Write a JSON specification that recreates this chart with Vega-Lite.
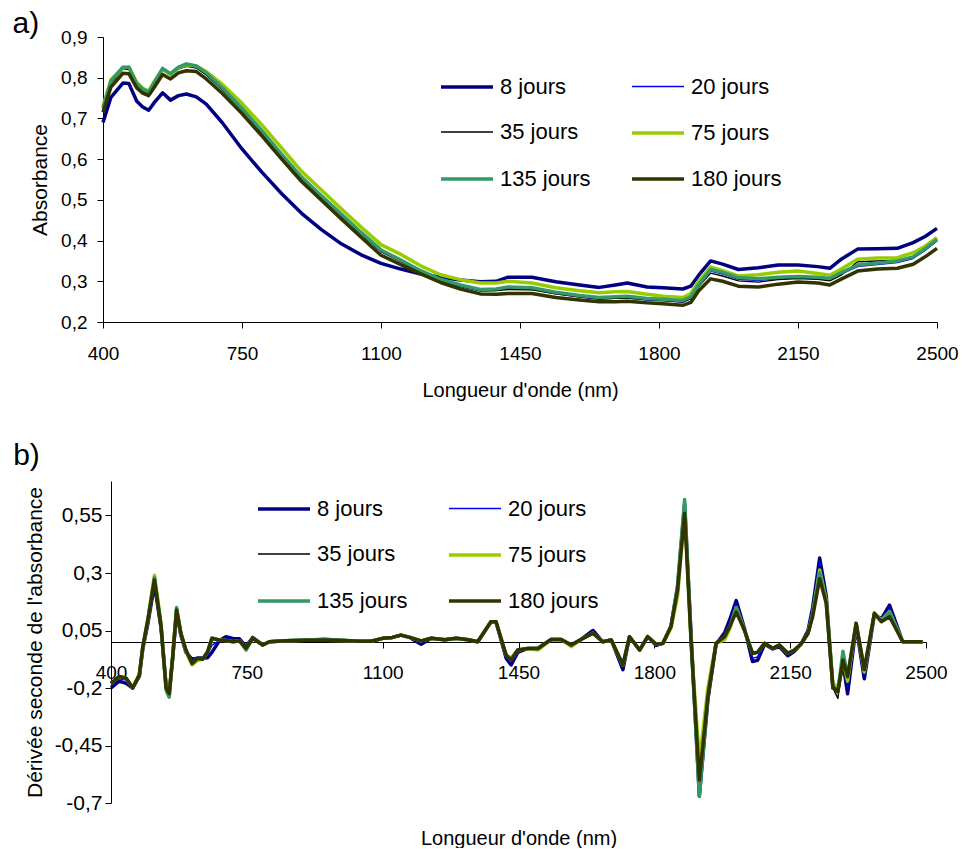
{
  "$schema": "https://vega.github.io/schema/vega-lite/v6.json",
  "background": "white",
  "padding": {"left": 12, "top": 9, "right": 5, "bottom": 0},
  "spacing": 41,
  "columns": 1,
  "config": {
    "font": "Liberation Sans",
    "view": {"stroke": null},
    "axis": {"domainColor": "#000000", "tickColor": "#000000", "labelColor": "#000000", "titleColor": "#000000", "grid": false, "labelFont": "Liberation Sans", "titleFont": "Liberation Sans", "titleFontWeight": "normal", "labelFontSize": 19, "titleFontSize": 20, "tickSize": 6, "labelFlush": false, "labelOverlap": false},
    "legend": {"orient": "none", "columns": 2, "direction": "horizontal", "symbolType": "stroke", "symbolSize": 2704, "labelFontSize": 22, "labelFont": "Liberation Sans", "labelColor": "#000000", "rowPadding": 7, "columnPadding": 34, "labelOffset": 5, "title": null},
    "title": {"fontSize": 30, "fontWeight": "normal", "anchor": "start", "frame": "bounds", "font": "Liberation Sans", "color": "#000000"}
  },
  "datasets": {
    "a": [
      {"nm":400,"8 jours":0.690,"20 jours":0.721,"35 jours":0.722,"75 jours":0.730,"135 jours":0.725,"180 jours":0.715},
      {"nm":420,"8 jours":0.752,"20 jours":0.788,"35 jours":0.787,"75 jours":0.795,"135 jours":0.792,"180 jours":0.777},
      {"nm":450,"8 jours":0.787,"20 jours":0.822,"35 jours":0.821,"75 jours":0.824,"135 jours":0.826,"180 jours":0.811},
      {"nm":465,"8 jours":0.786,"20 jours":0.822,"35 jours":0.820,"75 jours":0.826,"135 jours":0.826,"180 jours":0.810},
      {"nm":485,"8 jours":0.742,"20 jours":0.782,"35 jours":0.783,"75 jours":0.788,"135 jours":0.786,"180 jours":0.775},
      {"nm":500,"8 jours":0.728,"20 jours":0.768,"35 jours":0.769,"75 jours":0.774,"135 jours":0.772,"180 jours":0.762},
      {"nm":515,"8 jours":0.720,"20 jours":0.761,"35 jours":0.763,"75 jours":0.767,"135 jours":0.765,"180 jours":0.756},
      {"nm":530,"8 jours":0.740,"20 jours":0.786,"35 jours":0.786,"75 jours":0.792,"135 jours":0.790,"180 jours":0.778},
      {"nm":550,"8 jours":0.763,"20 jours":0.819,"35 jours":0.818,"75 jours":0.820,"135 jours":0.823,"180 jours":0.808},
      {"nm":570,"8 jours":0.745,"20 jours":0.806,"35 jours":0.806,"75 jours":0.808,"135 jours":0.810,"180 jours":0.797},
      {"nm":590,"8 jours":0.756,"20 jours":0.822,"35 jours":0.821,"75 jours":0.824,"135 jours":0.826,"180 jours":0.812},
      {"nm":610,"8 jours":0.760,"20 jours":0.830,"35 jours":0.828,"75 jours":0.832,"135 jours":0.834,"180 jours":0.817},
      {"nm":635,"8 jours":0.753,"20 jours":0.825,"35 jours":0.824,"75 jours":0.829,"135 jours":0.829,"180 jours":0.815},
      {"nm":660,"8 jours":0.735,"20 jours":0.808,"35 jours":0.807,"75 jours":0.815,"135 jours":0.812,"180 jours":0.797},
      {"nm":700,"8 jours":0.690,"20 jours":0.772,"35 jours":0.771,"75 jours":0.784,"135 jours":0.776,"180 jours":0.762},
      {"nm":750,"8 jours":0.625,"20 jours":0.721,"35 jours":0.721,"75 jours":0.737,"135 jours":0.725,"180 jours":0.712},
      {"nm":800,"8 jours":0.568,"20 jours":0.666,"35 jours":0.666,"75 jours":0.684,"135 jours":0.670,"180 jours":0.657},
      {"nm":850,"8 jours":0.515,"20 jours":0.608,"35 jours":0.608,"75 jours":0.627,"135 jours":0.612,"180 jours":0.600},
      {"nm":900,"8 jours":0.467,"20 jours":0.552,"35 jours":0.553,"75 jours":0.570,"135 jours":0.556,"180 jours":0.545},
      {"nm":950,"8 jours":0.427,"20 jours":0.506,"35 jours":0.507,"75 jours":0.524,"135 jours":0.510,"180 jours":0.499},
      {"nm":1000,"8 jours":0.392,"20 jours":0.461,"35 jours":0.461,"75 jours":0.478,"135 jours":0.465,"180 jours":0.453},
      {"nm":1050,"8 jours":0.365,"20 jours":0.416,"35 jours":0.416,"75 jours":0.433,"135 jours":0.420,"180 jours":0.408},
      {"nm":1100,"8 jours":0.344,"20 jours":0.373,"35 jours":0.373,"75 jours":0.390,"135 jours":0.377,"180 jours":0.364},
      {"nm":1150,"8 jours":0.330,"20 jours":0.348,"35 jours":0.349,"75 jours":0.366,"135 jours":0.352,"180 jours":0.341},
      {"nm":1200,"8 jours":0.318,"20 jours":0.322,"35 jours":0.324,"75 jours":0.338,"135 jours":0.326,"180 jours":0.318},
      {"nm":1250,"8 jours":0.310,"20 jours":0.301,"35 jours":0.303,"75 jours":0.316,"135 jours":0.305,"180 jours":0.297},
      {"nm":1300,"8 jours":0.303,"20 jours":0.287,"35 jours":0.288,"75 jours":0.304,"135 jours":0.291,"180 jours":0.281},
      {"nm":1350,"8 jours":0.299,"20 jours":0.276,"35 jours":0.277,"75 jours":0.296,"135 jours":0.280,"180 jours":0.269},
      {"nm":1390,"8 jours":0.300,"20 jours":0.277,"35 jours":0.277,"75 jours":0.296,"135 jours":0.281,"180 jours":0.268},
      {"nm":1420,"8 jours":0.310,"20 jours":0.282,"35 jours":0.280,"75 jours":0.300,"135 jours":0.286,"180 jours":0.270},
      {"nm":1480,"8 jours":0.310,"20 jours":0.280,"35 jours":0.279,"75 jours":0.296,"135 jours":0.284,"180 jours":0.270},
      {"nm":1540,"8 jours":0.299,"20 jours":0.269,"35 jours":0.269,"75 jours":0.284,"135 jours":0.273,"180 jours":0.260},
      {"nm":1600,"8 jours":0.291,"20 jours":0.261,"35 jours":0.262,"75 jours":0.277,"135 jours":0.265,"180 jours":0.254},
      {"nm":1650,"8 jours":0.285,"20 jours":0.256,"35 jours":0.257,"75 jours":0.272,"135 jours":0.260,"180 jours":0.250},
      {"nm":1690,"8 jours":0.291,"20 jours":0.258,"35 jours":0.258,"75 jours":0.274,"135 jours":0.262,"180 jours":0.250},
      {"nm":1720,"8 jours":0.296,"20 jours":0.259,"35 jours":0.259,"75 jours":0.275,"135 jours":0.263,"180 jours":0.251},
      {"nm":1770,"8 jours":0.286,"20 jours":0.254,"35 jours":0.255,"75 jours":0.268,"135 jours":0.258,"180 jours":0.247},
      {"nm":1810,"8 jours":0.284,"20 jours":0.252,"35 jours":0.253,"75 jours":0.263,"135 jours":0.256,"180 jours":0.245},
      {"nm":1860,"8 jours":0.281,"20 jours":0.249,"35 jours":0.249,"75 jours":0.260,"135 jours":0.253,"180 jours":0.241},
      {"nm":1880,"8 jours":0.288,"20 jours":0.258,"35 jours":0.257,"75 jours":0.270,"135 jours":0.262,"180 jours":0.248},
      {"nm":1900,"8 jours":0.315,"20 jours":0.288,"35 jours":0.287,"75 jours":0.300,"135 jours":0.292,"180 jours":0.277},
      {"nm":1930,"8 jours":0.350,"20 jours":0.325,"35 jours":0.320,"75 jours":0.335,"135 jours":0.329,"180 jours":0.306},
      {"nm":1960,"8 jours":0.342,"20 jours":0.318,"35 jours":0.313,"75 jours":0.326,"135 jours":0.322,"180 jours":0.300},
      {"nm":2000,"8 jours":0.329,"20 jours":0.305,"35 jours":0.301,"75 jours":0.313,"135 jours":0.309,"180 jours":0.288},
      {"nm":2050,"8 jours":0.333,"20 jours":0.302,"35 jours":0.298,"75 jours":0.316,"135 jours":0.306,"180 jours":0.286},
      {"nm":2100,"8 jours":0.340,"20 jours":0.306,"35 jours":0.304,"75 jours":0.322,"135 jours":0.310,"180 jours":0.293},
      {"nm":2150,"8 jours":0.340,"20 jours":0.308,"35 jours":0.307,"75 jours":0.325,"135 jours":0.312,"180 jours":0.298},
      {"nm":2200,"8 jours":0.336,"20 jours":0.306,"35 jours":0.305,"75 jours":0.319,"135 jours":0.310,"180 jours":0.296},
      {"nm":2230,"8 jours":0.332,"20 jours":0.303,"35 jours":0.301,"75 jours":0.315,"135 jours":0.307,"180 jours":0.291},
      {"nm":2260,"8 jours":0.355,"20 jours":0.318,"35 jours":0.316,"75 jours":0.331,"135 jours":0.322,"180 jours":0.306},
      {"nm":2300,"8 jours":0.379,"20 jours":0.336,"35 jours":0.348,"75 jours":0.354,"135 jours":0.340,"180 jours":0.325},
      {"nm":2350,"8 jours":0.380,"20 jours":0.341,"35 jours":0.350,"75 jours":0.357,"135 jours":0.345,"180 jours":0.330},
      {"nm":2400,"8 jours":0.381,"20 jours":0.346,"35 jours":0.352,"75 jours":0.358,"135 jours":0.350,"180 jours":0.332},
      {"nm":2440,"8 jours":0.395,"20 jours":0.356,"35 jours":0.360,"75 jours":0.370,"135 jours":0.360,"180 jours":0.342},
      {"nm":2470,"8 jours":0.410,"20 jours":0.376,"35 jours":0.378,"75 jours":0.386,"135 jours":0.380,"180 jours":0.360},
      {"nm":2500,"8 jours":0.430,"20 jours":0.399,"35 jours":0.400,"75 jours":0.407,"135 jours":0.403,"180 jours":0.381}
    ],
    "b": [
      {"nm":400,"8 jours":-0.20,"20 jours":-0.19,"35 jours":-0.18,"75 jours":-0.18,"135 jours":-0.18,"180 jours":-0.18},
      {"nm":421,"8 jours":-0.17,"20 jours":-0.16,"35 jours":-0.15,"75 jours":-0.15,"135 jours":-0.15,"180 jours":-0.15},
      {"nm":439,"8 jours":-0.18,"20 jours":-0.165,"35 jours":-0.157,"75 jours":-0.157,"135 jours":-0.157,"180 jours":-0.157},
      {"nm":456,"8 jours":-0.20,"20 jours":-0.20,"35 jours":-0.20,"75 jours":-0.20,"135 jours":-0.20,"180 jours":-0.20},
      {"nm":473,"8 jours":-0.15,"20 jours":-0.145,"35 jours":-0.143,"75 jours":-0.143,"135 jours":-0.143,"180 jours":-0.143},
      {"nm":482,"8 jours":-0.03,"20 jours":-0.025,"35 jours":-0.02,"75 jours":-0.02,"135 jours":-0.02,"180 jours":-0.02},
      {"nm":495,"8 jours":0.08,"20 jours":0.09,"35 jours":0.096,"75 jours":0.10,"135 jours":0.096,"180 jours":0.096},
      {"nm":512,"8 jours":0.25,"20 jours":0.26,"35 jours":0.27,"75 jours":0.29,"135 jours":0.28,"180 jours":0.27},
      {"nm":529,"8 jours":0.06,"20 jours":0.065,"35 jours":0.067,"75 jours":0.08,"135 jours":0.07,"180 jours":0.067},
      {"nm":542,"8 jours":-0.19,"20 jours":-0.20,"35 jours":-0.20,"75 jours":-0.20,"135 jours":-0.21,"180 jours":-0.20},
      {"nm":550,"8 jours":-0.22,"20 jours":-0.23,"35 jours":-0.225,"75 jours":-0.23,"135 jours":-0.24,"180 jours":-0.225},
      {"nm":559,"8 jours":-0.07,"20 jours":-0.065,"35 jours":-0.064,"75 jours":-0.064,"135 jours":-0.06,"180 jours":-0.064},
      {"nm":569,"8 jours":0.13,"20 jours":0.14,"35 jours":0.139,"75 jours":0.145,"135 jours":0.15,"180 jours":0.139},
      {"nm":580,"8 jours":0.03,"20 jours":0.035,"35 jours":0.038,"75 jours":0.04,"135 jours":0.038,"180 jours":0.038},
      {"nm":593,"8 jours":-0.045,"20 jours":-0.04,"35 jours":-0.035,"75 jours":-0.04,"135 jours":-0.035,"180 jours":-0.035},
      {"nm":609,"8 jours":-0.075,"20 jours":-0.085,"35 jours":-0.093,"75 jours":-0.10,"135 jours":-0.093,"180 jours":-0.093},
      {"nm":623,"8 jours":-0.07,"20 jours":-0.07,"35 jours":-0.071,"75 jours":-0.08,"135 jours":-0.071,"180 jours":-0.071},
      {"nm":636,"8 jours":-0.07,"20 jours":-0.072,"35 jours":-0.075,"75 jours":-0.075,"135 jours":-0.075,"180 jours":-0.075},
      {"nm":649,"8 jours":-0.068,"20 jours":-0.055,"35 jours":-0.042,"75 jours":-0.042,"135 jours":-0.042,"180 jours":-0.042},
      {"nm":660,"8 jours":-0.045,"20 jours":-0.015,"35 jours":0.016,"75 jours":0.016,"135 jours":0.016,"180 jours":0.016},
      {"nm":679,"8 jours":0.005,"20 jours":0.007,"35 jours":0.009,"75 jours":0.009,"135 jours":0.009,"180 jours":0.009},
      {"nm":696,"8 jours":0.023,"20 jours":0.015,"35 jours":0.007,"75 jours":0.007,"135 jours":0.007,"180 jours":0.007},
      {"nm":714,"8 jours":0.015,"20 jours":0.008,"35 jours":0.001,"75 jours":0.001,"135 jours":0.001,"180 jours":0.001},
      {"nm":731,"8 jours":0.014,"20 jours":0.01,"35 jours":0.005,"75 jours":0.005,"135 jours":0.005,"180 jours":0.005},
      {"nm":748,"8 jours":-0.02,"20 jours":-0.03,"35 jours":-0.027,"75 jours":-0.027,"135 jours":-0.035,"180 jours":-0.027},
      {"nm":765,"8 jours":0.02,"20 jours":0.018,"35 jours":0.016,"75 jours":0.016,"135 jours":0.016,"180 jours":0.016},
      {"nm":791,"8 jours":-0.013,"20 jours":-0.013,"35 jours":-0.013,"75 jours":-0.013,"135 jours":-0.013,"180 jours":-0.013},
      {"nm":808,"8 jours":0.001,"20 jours":0.001,"35 jours":0.001,"75 jours":0.001,"135 jours":0.001,"180 jours":0.001},
      {"nm":850,"8 jours":0.005,"20 jours":0.005,"35 jours":0.005,"75 jours":0.005,"135 jours":0.005,"180 jours":0.005},
      {"nm":900,"8 jours":0.008,"20 jours":0.008,"35 jours":0.008,"75 jours":0.008,"135 jours":0.008,"180 jours":0.008},
      {"nm":950,"8 jours":0.012,"20 jours":0.01,"35 jours":0.008,"75 jours":0.008,"135 jours":0.008,"180 jours":0.008},
      {"nm":1000,"8 jours":0.007,"20 jours":0.007,"35 jours":0.007,"75 jours":0.007,"135 jours":0.007,"180 jours":0.007},
      {"nm":1040,"8 jours":0.003,"20 jours":0.003,"35 jours":0.003,"75 jours":0.003,"135 jours":0.003,"180 jours":0.003},
      {"nm":1070,"8 jours":0.003,"20 jours":0.003,"35 jours":0.003,"75 jours":0.003,"135 jours":0.003,"180 jours":0.003},
      {"nm":1100,"8 jours":0.016,"20 jours":0.016,"35 jours":0.016,"75 jours":0.016,"135 jours":0.016,"180 jours":0.016},
      {"nm":1125,"8 jours":0.02,"20 jours":0.02,"35 jours":0.02,"75 jours":0.02,"135 jours":0.02,"180 jours":0.02},
      {"nm":1147,"8 jours":0.03,"20 jours":0.03,"35 jours":0.03,"75 jours":0.03,"135 jours":0.03,"180 jours":0.03},
      {"nm":1170,"8 jours":0.02,"20 jours":0.02,"35 jours":0.02,"75 jours":0.02,"135 jours":0.02,"180 jours":0.02},
      {"nm":1199,"8 jours":-0.01,"20 jours":0.0,"35 jours":0.005,"75 jours":0.005,"135 jours":0.005,"180 jours":0.005},
      {"nm":1225,"8 jours":0.016,"20 jours":0.016,"35 jours":0.016,"75 jours":0.016,"135 jours":0.016,"180 jours":0.016},
      {"nm":1260,"8 jours":0.01,"20 jours":0.01,"35 jours":0.01,"75 jours":0.01,"135 jours":0.01,"180 jours":0.01},
      {"nm":1290,"8 jours":0.016,"20 jours":0.016,"35 jours":0.016,"75 jours":0.016,"135 jours":0.016,"180 jours":0.016},
      {"nm":1320,"8 jours":0.01,"20 jours":0.01,"35 jours":0.01,"75 jours":0.01,"135 jours":0.01,"180 jours":0.01},
      {"nm":1345,"8 jours":0.001,"20 jours":0.001,"35 jours":0.001,"75 jours":0.001,"135 jours":0.001,"180 jours":0.001},
      {"nm":1379,"8 jours":0.088,"20 jours":0.088,"35 jours":0.088,"75 jours":0.088,"135 jours":0.088,"180 jours":0.088},
      {"nm":1392,"8 jours":0.088,"20 jours":0.088,"35 jours":0.088,"75 jours":0.088,"135 jours":0.088,"180 jours":0.088},
      {"nm":1418,"8 jours":-0.07,"20 jours":-0.062,"35 jours":-0.057,"75 jours":-0.057,"135 jours":-0.057,"180 jours":-0.057},
      {"nm":1431,"8 jours":-0.10,"20 jours":-0.085,"35 jours":-0.078,"75 jours":-0.07,"135 jours":-0.078,"180 jours":-0.078},
      {"nm":1448,"8 jours":-0.045,"20 jours":-0.04,"35 jours":-0.035,"75 jours":-0.035,"135 jours":-0.035,"180 jours":-0.035},
      {"nm":1474,"8 jours":-0.028,"20 jours":-0.028,"35 jours":-0.028,"75 jours":-0.028,"135 jours":-0.028,"180 jours":-0.028},
      {"nm":1500,"8 jours":-0.028,"20 jours":-0.028,"35 jours":-0.028,"75 jours":-0.035,"135 jours":-0.028,"180 jours":-0.028},
      {"nm":1534,"8 jours":0.011,"20 jours":0.011,"35 jours":0.011,"75 jours":0.011,"135 jours":0.011,"180 jours":0.011},
      {"nm":1560,"8 jours":0.011,"20 jours":0.011,"35 jours":0.011,"75 jours":0.011,"135 jours":0.011,"180 jours":0.011},
      {"nm":1586,"8 jours":-0.013,"20 jours":-0.013,"35 jours":-0.013,"75 jours":-0.02,"135 jours":-0.013,"180 jours":-0.013},
      {"nm":1611,"8 jours":0.011,"20 jours":0.011,"35 jours":0.011,"75 jours":0.011,"135 jours":0.011,"180 jours":0.011},
      {"nm":1642,"8 jours":0.05,"20 jours":0.045,"35 jours":0.038,"75 jours":0.038,"135 jours":0.038,"180 jours":0.038},
      {"nm":1667,"8 jours":0.001,"20 jours":0.001,"35 jours":0.001,"75 jours":0.001,"135 jours":0.001,"180 jours":0.001},
      {"nm":1689,"8 jours":0.009,"20 jours":0.009,"35 jours":0.009,"75 jours":0.009,"135 jours":0.009,"180 jours":0.009},
      {"nm":1719,"8 jours":-0.12,"20 jours":-0.11,"35 jours":-0.10,"75 jours":-0.10,"135 jours":-0.10,"180 jours":-0.10},
      {"nm":1736,"8 jours":0.023,"20 jours":0.023,"35 jours":0.023,"75 jours":0.023,"135 jours":0.023,"180 jours":0.023},
      {"nm":1762,"8 jours":-0.035,"20 jours":-0.035,"35 jours":-0.035,"75 jours":-0.035,"135 jours":-0.035,"180 jours":-0.035},
      {"nm":1783,"8 jours":0.023,"20 jours":0.023,"35 jours":0.023,"75 jours":0.023,"135 jours":0.023,"180 jours":0.023},
      {"nm":1805,"8 jours":-0.015,"20 jours":-0.012,"35 jours":-0.01,"75 jours":-0.01,"135 jours":-0.01,"180 jours":-0.01},
      {"nm":1822,"8 jours":-0.006,"20 jours":-0.006,"35 jours":-0.006,"75 jours":-0.006,"135 jours":-0.006,"180 jours":-0.006},
      {"nm":1843,"8 jours":0.07,"20 jours":0.068,"35 jours":0.067,"75 jours":0.06,"135 jours":0.067,"180 jours":0.067},
      {"nm":1860,"8 jours":0.24,"20 jours":0.245,"35 jours":0.226,"75 jours":0.20,"135 jours":0.25,"180 jours":0.226},
      {"nm":1878,"8 jours":0.60,"20 jours":0.61,"35 jours":0.57,"75 jours":0.58,"135 jours":0.62,"180 jours":0.56},
      {"nm":1895,"8 jours":0.02,"20 jours":0.01,"35 jours":-0.006,"75 jours":-0.006,"135 jours":0.0,"180 jours":-0.006},
      {"nm":1916,"8 jours":-0.67,"20 jours":-0.66,"35 jours":-0.62,"75 jours":-0.52,"135 jours":-0.67,"180 jours":-0.60},
      {"nm":1938,"8 jours":-0.25,"20 jours":-0.245,"35 jours":-0.238,"75 jours":-0.20,"135 jours":-0.238,"180 jours":-0.238},
      {"nm":1959,"8 jours":-0.01,"20 jours":-0.008,"35 jours":-0.006,"75 jours":-0.006,"135 jours":-0.006,"180 jours":-0.006},
      {"nm":1981,"8 jours":0.04,"20 jours":0.03,"35 jours":0.023,"75 jours":0.01,"135 jours":0.023,"180 jours":0.023},
      {"nm":1995,"8 jours":0.10,"20 jours":0.085,"35 jours":0.075,"75 jours":0.06,"135 jours":0.07,"180 jours":0.07},
      {"nm":2011,"8 jours":0.18,"20 jours":0.17,"35 jours":0.16,"75 jours":0.15,"135 jours":0.15,"180 jours":0.13},
      {"nm":2032,"8 jours":0.06,"20 jours":0.056,"35 jours":0.052,"75 jours":0.052,"135 jours":0.052,"180 jours":0.052},
      {"nm":2053,"8 jours":-0.085,"20 jours":-0.07,"35 jours":-0.049,"75 jours":-0.049,"135 jours":-0.05,"180 jours":-0.049},
      {"nm":2066,"8 jours":-0.08,"20 jours":-0.065,"35 jours":-0.045,"75 jours":-0.045,"135 jours":-0.045,"180 jours":-0.045},
      {"nm":2084,"8 jours":-0.01,"20 jours":-0.008,"35 jours":-0.006,"75 jours":-0.006,"135 jours":-0.006,"180 jours":-0.006},
      {"nm":2105,"8 jours":-0.03,"20 jours":-0.028,"35 jours":-0.027,"75 jours":-0.027,"135 jours":-0.027,"180 jours":-0.027},
      {"nm":2122,"8 jours":-0.02,"20 jours":-0.016,"35 jours":-0.013,"75 jours":-0.013,"135 jours":-0.013,"180 jours":-0.013},
      {"nm":2144,"8 jours":-0.06,"20 jours":-0.055,"35 jours":-0.049,"75 jours":-0.049,"135 jours":-0.049,"180 jours":-0.049},
      {"nm":2161,"8 jours":-0.04,"20 jours":-0.038,"35 jours":-0.035,"75 jours":-0.035,"135 jours":-0.035,"180 jours":-0.035},
      {"nm":2178,"8 jours":-0.009,"20 jours":-0.009,"35 jours":-0.009,"75 jours":-0.009,"135 jours":-0.009,"180 jours":-0.009},
      {"nm":2196,"8 jours":0.05,"20 jours":0.045,"35 jours":0.038,"75 jours":0.038,"135 jours":0.038,"180 jours":0.038},
      {"nm":2208,"8 jours":0.15,"20 jours":0.14,"35 jours":0.12,"75 jours":0.12,"135 jours":0.12,"180 jours":0.11},
      {"nm":2226,"8 jours":0.365,"20 jours":0.35,"35 jours":0.33,"75 jours":0.313,"135 jours":0.30,"180 jours":0.275},
      {"nm":2243,"8 jours":0.20,"20 jours":0.19,"35 jours":0.18,"75 jours":0.18,"135 jours":0.17,"180 jours":0.168},
      {"nm":2260,"8 jours":-0.20,"20 jours":-0.20,"35 jours":-0.20,"75 jours":-0.18,"135 jours":-0.194,"180 jours":-0.194},
      {"nm":2273,"8 jours":-0.21,"20 jours":-0.215,"35 jours":-0.245,"75 jours":-0.20,"135 jours":-0.216,"180 jours":-0.216},
      {"nm":2286,"8 jours":-0.09,"20 jours":-0.07,"35 jours":-0.05,"75 jours":-0.078,"135 jours":-0.04,"180 jours":-0.078},
      {"nm":2298,"8 jours":-0.225,"20 jours":-0.19,"35 jours":-0.16,"75 jours":-0.17,"135 jours":-0.15,"180 jours":-0.15},
      {"nm":2320,"8 jours":0.07,"20 jours":0.075,"35 jours":0.081,"75 jours":0.081,"135 jours":0.081,"180 jours":0.081},
      {"nm":2341,"8 jours":-0.16,"20 jours":-0.14,"35 jours":-0.12,"75 jours":-0.13,"135 jours":-0.12,"180 jours":-0.12},
      {"nm":2367,"8 jours":0.12,"20 jours":0.122,"35 jours":0.125,"75 jours":0.125,"135 jours":0.125,"180 jours":0.125},
      {"nm":2385,"8 jours":0.10,"20 jours":0.095,"35 jours":0.09,"75 jours":0.095,"135 jours":0.09,"180 jours":0.088},
      {"nm":2406,"8 jours":0.16,"20 jours":0.15,"35 jours":0.13,"75 jours":0.132,"135 jours":0.13,"180 jours":0.11},
      {"nm":2440,"8 jours":0.001,"20 jours":0.001,"35 jours":0.001,"75 jours":0.001,"135 jours":0.001,"180 jours":0.001},
      {"nm":2491,"8 jours":0.001,"20 jours":0.001,"35 jours":0.001,"75 jours":0.001,"135 jours":0.001,"180 jours":0.001}
    ]
  },
  "concat": [
    {
      "title": {"text": "a)", "dx": -17, "offset": -11},
      "width": 826,
      "height": 285,
      "data": {"name": "a"},
      "transform": [{"fold": ["8 jours", "20 jours", "35 jours", "75 jours", "135 jours", "180 jours"], "as": ["serie", "val"]}],
      "mark": {"type": "line", "strokeJoin": "round"},
      "encoding": {
        "x": {"field": "nm", "type": "quantitative", "scale": {"domain": [400, 2500], "range": [-8, 826], "nice": false, "zero": false},
          "axis": {"values": [400, 750, 1100, 1450, 1800, 2150, 2500], "labelExpr": "'' + datum.value", "title": "Longueur d'onde (nm)", "labelPadding": 16, "titlePadding": 17}},
        "y": {"field": "val", "type": "quantitative", "scale": {"domain": [0.2, 0.9], "nice": false, "zero": false},
          "axis": {"values": [0.2, 0.3, 0.4, 0.5, 0.6, 0.7, 0.8, 0.9], "labelExpr": "replace('' + datum.value, '.', ',')", "title": "Absorbance", "titleFontSize": 21, "labelPadding": 10, "titlePadding": 10, "offset": 8}},
        "color": {"field": "serie", "type": "nominal",
          "scale": {"domain": ["8 jours", "20 jours", "35 jours", "75 jours", "135 jours", "180 jours"], "range": ["#000080", "#0000FF", "#000000", "#99CC00", "#339966", "#333300"]},
          "legend": {"legendX": 328, "legendY": 22}},
        "strokeWidth": {"field": "serie", "type": "nominal",
          "scale": {"type": "ordinal", "domain": ["8 jours", "20 jours", "35 jours", "75 jours", "135 jours", "180 jours"], "range": [3.5, 1.4, 1.4, 3.5, 3.5, 3.5]},
          "legend": {"legendX": 328, "legendY": 22}}
      }
    },
    {
      "title": {"text": "b)", "dx": -11, "offset": 10},
      "width": 815,
      "height": 322,
      "data": {"name": "b"},
      "transform": [{"fold": ["8 jours", "20 jours", "35 jours", "75 jours", "135 jours", "180 jours"], "as": ["serie", "val"]}],
      "mark": {"type": "line", "strokeJoin": "round"},
      "encoding": {
        "x": {"field": "nm", "type": "quantitative", "scale": {"domain": [400, 2500], "nice": false, "zero": false},
          "axis": {"values": [400, 750, 1100, 1450, 1800, 2150, 2500], "labelExpr": "'' + datum.value", "title": "Longueur d'onde (nm)", "offset": -161, "labelPadding": 15, "titleY": 186, "titleBaseline": "top"}},
        "y": {"field": "val", "type": "quantitative", "scale": {"domain": [-0.7, 0.7], "nice": false, "zero": false},
          "axis": {"values": [-0.7, -0.45, -0.2, 0.05, 0.3, 0.55], "labelExpr": "replace('' + datum.value, '.', ',')", "title": "Dérivée seconde de l'absorbance", "titleFontSize": 21, "labelFontSize": 21, "labelPadding": 3, "titlePadding": 9}},
        "color": {"field": "serie", "type": "nominal",
          "scale": {"domain": ["8 jours", "20 jours", "35 jours", "75 jours", "135 jours", "180 jours"], "range": ["#000080", "#0000FF", "#000000", "#99CC00", "#339966", "#333300"]},
          "legend": {"legendX": 145, "legendY": 0}},
        "strokeWidth": {"field": "serie", "type": "nominal",
          "scale": {"type": "ordinal", "domain": ["8 jours", "20 jours", "35 jours", "75 jours", "135 jours", "180 jours"], "range": [3.5, 1.4, 1.4, 3.5, 3.5, 3.5]},
          "legend": {"legendX": 145, "legendY": 0}}
      }
    }
  ],
  "resolve": {"scale": {"color": "independent", "strokeWidth": "independent"}, "legend": {"color": "independent", "strokeWidth": "independent"}}
}
